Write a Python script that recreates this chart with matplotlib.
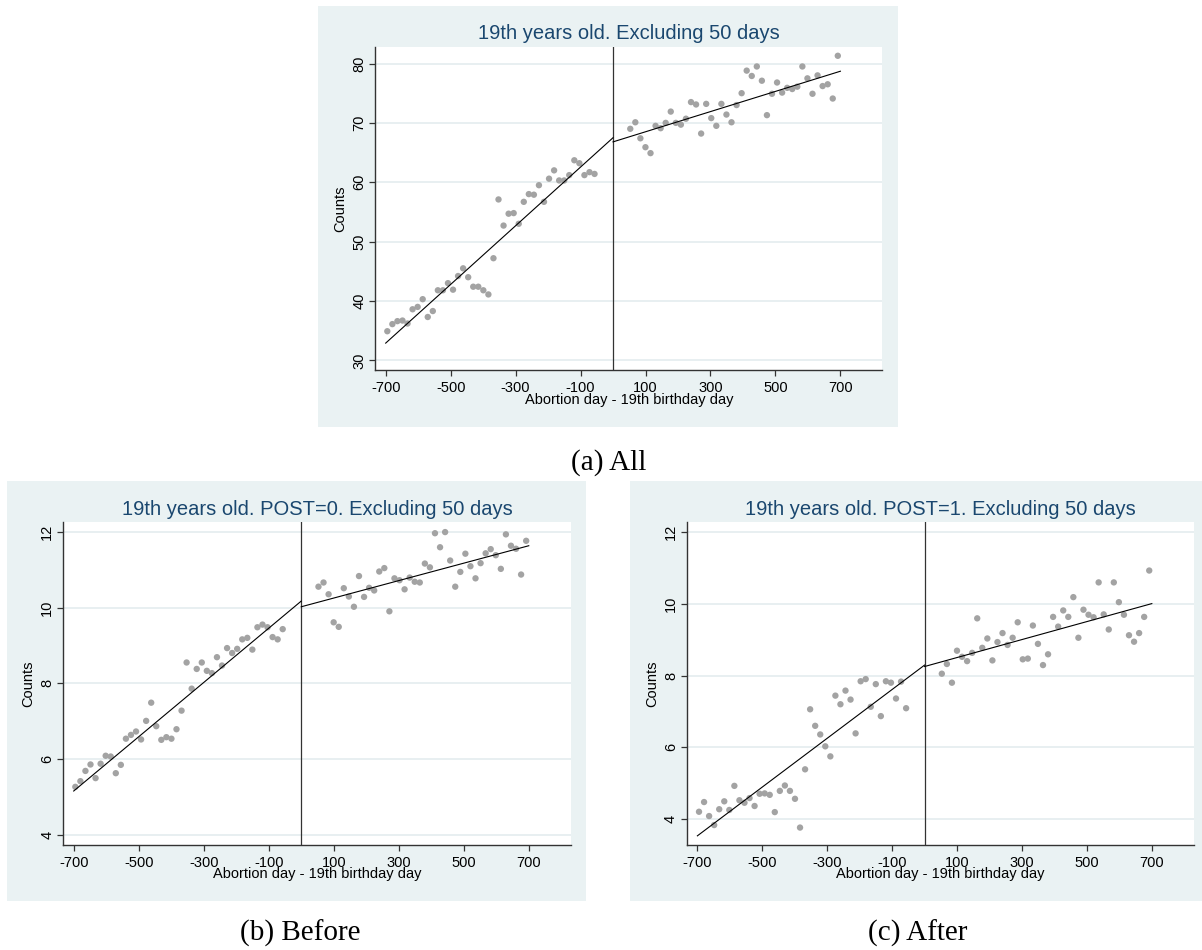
import numpy as np
import matplotlib
matplotlib.use("Agg")
import matplotlib.pyplot as plt
from matplotlib.patches import Rectangle

# ---------------------------------------------------------------- data
# bin centres (days relative to the 19th birthday), 50 days excluded each side
days_left = np.linspace(-695, -57, 42)
days_right = np.linspace(53, 692, 42)

all_left = [34.9, 36.1, 36.6, 36.7, 36.2, 38.6, 39.0, 40.3, 37.3, 38.3,
            41.8, 41.8, 43.0, 41.9, 44.2, 45.5, 44.0, 42.4, 42.4, 41.8,
            41.1, 47.2, 57.1, 52.7, 54.7, 54.8, 53.0, 56.7, 58.0, 57.9,
            59.5, 56.7, 60.6, 62.0, 60.3, 60.3, 61.2, 63.7, 63.2, 61.2,
            61.7, 61.4]
all_right = [69.0, 70.1, 67.4, 65.9, 64.9, 69.5, 69.1, 70.0, 71.9, 70.0,
             69.7, 70.7, 73.5, 73.1, 68.2, 73.2, 70.8, 69.5, 73.2, 71.4,
             70.1, 73.0, 75.0, 78.8, 77.9, 79.5, 77.1, 71.3, 74.9, 76.8,
             75.1, 75.9, 75.7, 76.1, 79.5, 77.5, 74.9, 78.0, 76.2, 76.5,
             74.1, 81.3]
all_fit_left = [32.9, 67.5]
all_fit_right = [66.8, 78.7]

post0_left = [5.27, 5.42, 5.69, 5.86, 5.50, 5.88, 6.09, 6.07, 5.63, 5.85,
              6.54, 6.64, 6.73, 6.52, 7.01, 7.49, 6.87, 6.51, 6.58, 6.54,
              6.79, 7.28, 8.55, 7.86, 8.38, 8.55, 8.33, 8.27, 8.69, 8.47,
              8.93, 8.80, 8.91, 9.16, 9.20, 8.89, 9.48, 9.55, 9.48, 9.22,
              9.16, 9.43]
post0_right = [10.55, 10.66, 10.35, 9.61, 9.49, 10.51, 10.29, 10.02, 10.83, 10.28,
               10.52, 10.45, 10.95, 11.04, 9.90, 10.77, 10.72, 10.48, 10.79, 10.68,
               10.66, 11.16, 11.06, 11.96, 11.59, 11.99, 11.24, 10.55, 10.94, 11.42,
               11.09, 10.77, 11.17, 11.43, 11.54, 11.38, 11.02, 11.93, 11.63, 11.55,
               10.87, 11.76]
post0_fit_left = [5.16, 10.17]
post0_fit_right = [10.02, 11.63]

post1_left = [4.21, 4.48, 4.09, 3.84, 4.28, 4.50, 4.26, 4.93, 4.53, 4.46,
              4.59, 4.37, 4.71, 4.72, 4.68, 4.20, 4.79, 4.94, 4.79, 4.57,
              3.77, 5.39, 7.06, 6.60, 6.36, 6.03, 5.75, 7.44, 7.20, 7.58,
              7.33, 6.39, 7.84, 7.90, 7.13, 7.76, 6.87, 7.84, 7.80, 7.36,
              7.83, 7.09]
post1_right = [8.05, 8.32, 7.80, 8.69, 8.52, 8.40, 8.63, 9.59, 8.77, 9.03,
               8.42, 8.93, 9.18, 8.85, 9.05, 9.48, 8.45, 8.47, 9.39, 8.88,
               8.29, 8.59, 9.63, 9.36, 9.81, 9.63, 10.18, 9.05, 9.83, 9.69,
               9.62, 10.59, 9.70, 9.28, 10.59, 10.04, 9.69, 9.12, 8.94, 9.18,
               9.63, 10.92]
post1_fit_left = [3.54, 8.29]
post1_fit_right = [8.25, 10.00]

x_ticks = [-700, -500, -300, -100, 100, 300, 500, 700]

# ---------------------------------------------------------------- style
BG = "#EAF2F3"
GRID = "#E1EBED"
TITLE_C = "#1A476F"
MARK_C = "#A3A3A3"
AXIS_C = "#333333"
SANS = "Liberation Sans"
SERIF = "Liberation Serif"

W, H = 1202, 950
fig = plt.figure(figsize=(W / 100, H / 100), dpi=100)
fig.patch.set_facecolor("white")


def fbox(l, t, r, b):
    return [l / W, 1 - b / H, (r - l) / W, (b - t) / H]


def panel(ax_px, bg_px, title, title_base, ylim, yticks,
          yl, yr, fl, fr):
    l, t, r, b = bg_px
    fig.patches.append(Rectangle((l / W, 1 - b / H), (r - l) / W, (b - t) / H,
                                 transform=fig.transFigure, facecolor=BG,
                                 edgecolor="none", zorder=-5))
    ax = fig.add_axes(fbox(*ax_px))
    ax.set_zorder(2)
    ax.set_facecolor("white")
    ax.set_xlim(-732, 829)
    ax.set_ylim(*ylim)
    ax.set_yticks(yticks)
    ax.set_xticks(x_ticks)
    ax.set_yticklabels([str(v) for v in yticks], rotation=90, va="center",
                       family=SANS, fontsize=10.5)
    ax.set_xticklabels([str(v) for v in x_ticks], family=SANS, fontsize=10.5)
    for s in ("top", "right"):
        ax.spines[s].set_visible(False)
    for s in ("left", "bottom"):
        ax.spines[s].set_color(AXIS_C)
        ax.spines[s].set_linewidth(1.0)
    ax.tick_params(axis="both", direction="out", length=4.2, width=0.9,
                   color=AXIS_C, labelcolor="black")
    ax.tick_params(axis="y", pad=2.3)
    ax.tick_params(axis="x", pad=3.5)
    for v in yticks:
        ax.axhline(v, color=GRID, lw=1.1, zorder=0.5)

    ax.scatter(days_left, yl, s=21, color=MARK_C, edgecolors="none", zorder=2)
    ax.scatter(days_right, yr, s=21, color=MARK_C, edgecolors="none", zorder=2)
    ax.plot([-700, 0], fl, color="black", lw=0.8, zorder=3)
    ax.plot([0, 700], fr, color="black", lw=0.8, zorder=3)
    ax.axvline(0, color=AXIS_C, lw=0.9, zorder=2.5)

    ax.set_xlabel("Abortion day - 19th birthday day", family=SANS, fontsize=10.5)
    ax.xaxis.set_label_coords(0.5, -0.069)
    ax.set_ylabel("Counts", family=SANS, fontsize=10.5)
    ax.yaxis.set_label_coords(-0.0548, 0.5)

    cx = (ax_px[0] + ax_px[2]) / 2
    fig.text(cx / W, 1 - title_base / H, title, ha="center", va="baseline",
             family=SANS, fontsize=14.5, color=TITLE_C)
    return ax


panel((375.3, 47, 882.3, 370.3), (317.5, 6, 897.5, 426.7),
      "19th years old. Excluding 50 days", 39.3,
      (28.32, 82.78), [30, 40, 50, 60, 70, 80],
      all_left, all_right, all_fit_left, all_fit_right)

panel((63.3, 522, 570.7, 845), (7.3, 481, 586, 901.3),
      "19th years old. POST=0. Excluding 50 days", 515,
      (3.736, 12.256), [4, 6, 8, 10, 12],
      post0_left, post0_right, post0_fit_left, post0_fit_right)

panel((687, 522, 1193.7, 845), (630, 481, 1210, 901.3),
      "19th years old. POST=1. Excluding 50 days", 515,
      (3.285, 12.27), [4, 6, 8, 10, 12],
      post1_left, post1_right, post1_fit_left, post1_fit_right)

# sub-figure captions
fig.text(609 / W, 1 - 463 / H, "(a) All", ha="center", va="center",
         family=SERIF, fontsize=21)
fig.text(300 / W, 1 - 933 / H, "(b) Before", ha="center", va="center",
         family=SERIF, fontsize=21)
fig.text(918 / W, 1 - 933 / H, "(c) After", ha="center", va="center",
         family=SERIF, fontsize=21)

fig.savefig("out.png", dpi=100, facecolor="white")
